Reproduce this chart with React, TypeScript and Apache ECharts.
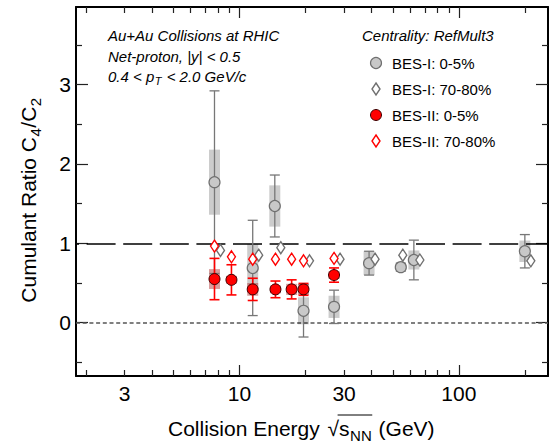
import React, { useEffect, useRef } from 'react';
import * as echarts from 'echarts';

// ---------------- data ----------------
const bes1Energy = [7.7, 11.5, 14.5, 19.6, 27, 39, 54.4, 62.4, 200];
const bes1Central = [1.77, 0.69, 1.47, 0.15, 0.2, 0.75, 0.7, 0.79, 0.9];
const bes1CentralStat = [1.15, 0.6, 0.39, 0.33, 0.21, 0.15, 0.05, 0.25, 0.21];
const bes1CentralSys = [0.41, 0.3, 0.26, 0.17, 0.14, 0.15, 0.03, 0.12, 0.135];
const bes1Peripheral = [0.91, 0.85, 0.945, 0.78, 0.8, 0.8, 0.85, 0.79, 0.78];

const bes2Energy = [7.7, 9.2, 11.5, 14.6, 17.3, 19.6, 27];
const bes2Central = [0.55, 0.54, 0.42, 0.42, 0.42, 0.42, 0.6];
const bes2CentralStat = [0.26, 0.19, 0.14, 0.105, 0.12, 0.075, 0.09];
const bes2CentralSys = [0.125, 0.05, 0.08, 0.05, 0.07, 0.07, 0.05];
const bes2Peripheral = [0.965, 0.83, 0.8, 0.8, 0.8, 0.78, 0.81];

const xMinorTicks = [2, 3, 4, 5, 6, 7, 8, 9, 20, 30, 40, 50, 60, 70, 80, 90, 200];
const xMajorTicks = [10, 100];
const xTickLabels = [3, 10, 30, 100];
const yMajorTicks = [0, 1, 2, 3];
const yMinorTicks = [-0.5, 0.5, 1.5, 2.5, 3.5];
const xRange = [1.8, 255];
const yRange = [-0.671, 3.976];

const legendTitle = 'Centrality: RefMult3';
const legendNames = ['BES-I: 0-5%', 'BES-I: 70-80%', 'BES-II: 0-5%', 'BES-II: 70-80%'];

// ---------------- helpers ----------------
const lg = Math.log10;
const FONT = '"Liberation Sans", Arial, Helvetica, sans-serif';
const GRAY = '#707070';
const GRAY_FILL = '#c8c8c8';
const RED = '#ff0000';

let measureCtx: CanvasRenderingContext2D | null = null;
function measure(text: string, size: number, italic = false): number {
  if (!measureCtx) measureCtx = document.createElement('canvas').getContext('2d');
  if (!measureCtx) return text.length * size * 0.55;
  measureCtx.font = `${italic ? 'italic ' : ''}${size}px ${FONT}`;
  return measureCtx.measureText(text).width;
}

function txt(text: string, x: number, y: number, size: number, italic = false, extra: any = {}) {
  return {
    type: 'text',
    x,
    y,
    silent: true,
    style: {
      text,
      fontSize: size,
      fontFamily: FONT,
      fontStyle: italic ? 'italic' : 'normal',
      fill: '#000',
      align: 'left',
      verticalAlign: 'middle',
      textAlign: 'left',
      textVerticalAlign: 'middle',
      ...extra,
    },
  };
}

function sysRender(color: string) {
  return (params: any, api: any) => {
    const x = api.value(0);
    const y = api.value(1);
    const s = api.value(2);
    const p1 = api.coord([x, y + s]);
    const p2 = api.coord([x, y - s]);
    return {
      type: 'rect',
      shape: { x: p1[0] - 5.5, y: p1[1], width: 11, height: p2[1] - p1[1] },
      style: { fill: color },
    };
  };
}

function errRender(color: string, width: number) {
  return (params: any, api: any) => {
    const x = api.value(0);
    const y = api.value(1);
    const e = api.value(2);
    const p1 = api.coord([x, y + e]);
    const p2 = api.coord([x, y - e]);
    const hw = 5;
    const st = { stroke: color, lineWidth: width };
    return {
      type: 'group',
      children: [
        { type: 'line', shape: { x1: p1[0], y1: p1[1], x2: p2[0], y2: p2[1] }, style: st },
        { type: 'line', shape: { x1: p1[0] - hw, y1: p1[1], x2: p1[0] + hw, y2: p1[1] }, style: st },
        { type: 'line', shape: { x1: p2[0] - hw, y1: p2[1], x2: p2[0] + hw, y2: p2[1] }, style: st },
      ],
    };
  };
}

function buildOption() {
  const tickStyle = { color: '#222', width: 1.2 };
  const xBase: any = {
    type: 'value',
    min: lg(xRange[0]),
    max: lg(xRange[1]),
    splitLine: { show: false },
    axisLabel: { show: false },
    axisTick: { show: false },
    axisLine: { show: false, onZero: false },
  };
  const yBase: any = {
    type: 'value',
    min: yRange[0],
    max: yRange[1],
    splitLine: { show: false },
    axisLabel: { show: false },
    axisTick: { show: false },
    axisLine: { show: false, onZero: false },
  };
  const axisLine = { show: true, onZero: false, lineStyle: { color: '#000', width: 2 } };

  const xAxis = [
    {
      ...xBase,
      position: 'bottom',
      axisLine,
      axisTick: { show: true, inside: true, length: 6, customValues: xMinorTicks.map(lg), lineStyle: tickStyle },
      axisLabel: {
        show: true,
        customValues: xTickLabels.map(lg),
        formatter: (v: number) => String(Math.round(Math.pow(10, v))),
        fontSize: 21,
        fontFamily: FONT,
        color: '#000',
        margin: 7,
      },
    },
    { ...xBase, position: 'bottom', axisTick: { show: true, inside: true, length: 11, customValues: xMajorTicks.map(lg), lineStyle: tickStyle } },
    { ...xBase, position: 'top', axisLine, axisTick: { show: true, inside: true, length: 6, customValues: xMinorTicks.map(lg), lineStyle: tickStyle } },
    { ...xBase, position: 'top', axisTick: { show: true, inside: true, length: 11, customValues: xMajorTicks.map(lg), lineStyle: tickStyle } },
  ];
  const yAxis = [
    {
      ...yBase,
      position: 'left',
      axisLine,
      axisTick: { show: true, inside: true, length: 12, customValues: yMajorTicks, lineStyle: tickStyle },
      axisLabel: {
        show: true,
        customValues: yMajorTicks,
        formatter: (v: number) => String(v),
        fontSize: 21,
        fontFamily: FONT,
        color: '#000',
        margin: 5,
      },
    },
    { ...yBase, position: 'left', axisTick: { show: true, inside: true, length: 6, customValues: yMinorTicks, lineStyle: tickStyle } },
    { ...yBase, position: 'right', axisLine, axisTick: { show: true, inside: true, length: 12, customValues: yMajorTicks, lineStyle: tickStyle } },
    { ...yBase, position: 'right', axisTick: { show: true, inside: true, length: 6, customValues: yMinorTicks, lineStyle: tickStyle } },
  ];

  const sys1Data = bes1Energy.map((e, i) => [lg(e), bes1Central[i], bes1CentralSys[i]]);
  const err1Data = bes1Energy.map((e, i) => [lg(e), bes1Central[i], bes1CentralStat[i]]);
  const sys2Data = bes2Energy.map((e, i) => [lg(e), bes2Central[i], bes2CentralSys[i]]);
  const err2Data = bes2Energy.map((e, i) => [lg(e), bes2Central[i], bes2CentralStat[i]]);

  const series: any[] = [
    {
      type: 'custom',
      name: 'sys BES-I',
      renderItem: sysRender('rgba(0,0,0,0.2)'),
      data: sys1Data,
      encode: { x: 0, y: 1 },
      silent: true,
      markLine: {
        silent: true,
        z: 1,
        symbol: ['none', 'none'],
        label: { show: false },
        data: [
          { yAxis: 1, lineStyle: { color: '#000', width: 1.6, type: [29, 7.6], dashOffset: 26 } },
          { yAxis: 0, lineStyle: { color: '#555', width: 1.5, type: [4, 2.7] } },
        ],
      },
    },
    {
      type: 'custom',
      name: 'sys BES-II',
      renderItem: sysRender('rgba(180,60,60,0.5)'),
      data: sys2Data,
      encode: { x: 0, y: 1 },
      silent: true,
    },
    {
      type: 'custom',
      name: 'stat BES-I',
      renderItem: errRender('#777', 1.3),
      data: err1Data,
      encode: { x: 0, y: 1 },
      silent: true,
    },
    {
      type: 'scatter',
      name: legendNames[0],
      symbol: 'circle',
      symbolSize: 11,
      itemStyle: { color: GRAY_FILL, borderColor: GRAY, borderWidth: 1.2, opacity: 1 },
      data: bes1Energy.map((e, i) => [lg(e), bes1Central[i]]),
    },
    {
      type: 'scatter',
      name: legendNames[1],
      symbol: 'diamond',
      symbolSize: [8, 12],
      itemStyle: { color: '#fff', borderColor: GRAY, borderWidth: 1.4, opacity: 1 },
      data: bes1Energy.map((e, i) => ({ value: [lg(e), bes1Peripheral[i]], symbolOffset: [e === 54.4 ? 2 : 6, 0] })),
    },
    {
      type: 'custom',
      name: 'stat BES-II',
      renderItem: errRender(RED, 1.6),
      data: err2Data,
      encode: { x: 0, y: 1 },
      silent: true,
    },
    {
      type: 'scatter',
      name: legendNames[2],
      symbol: 'circle',
      symbolSize: 11,
      itemStyle: { color: RED, borderColor: '#3a0000', borderWidth: 1, opacity: 1 },
      data: bes2Energy.map((e, i) => [lg(e), bes2Central[i]]),
    },
    {
      type: 'scatter',
      name: legendNames[3],
      symbol: 'diamond',
      symbolSize: [8, 12],
      itemStyle: { color: '#fff', borderColor: RED, borderWidth: 1.4, opacity: 1 },
      data: bes2Energy.map((e, i) => [lg(e), bes2Peripheral[i]]),
    },
  ];

  // ----- text annotations -----
  const graphic: any[] = [];
  const ax = 108;
  graphic.push(txt('Au+Au Collisions at RHIC', ax, 35, 15, true));
  graphic.push(txt('Net-proton, |y| < 0.5', ax, 56, 15, true));
  const l3a = '0.4 < p';
  const w3a = measure(l3a, 15, true);
  graphic.push(txt(l3a, ax, 76, 15, true));
  graphic.push(txt('T', ax + w3a + 0.5, 81, 11, true));
  graphic.push(txt(' < 2.0 GeV/c', ax + w3a + measure('T', 11, true) + 1.5, 76, 15, true));

  // ----- legend -----
  graphic.push(txt(legendTitle, 362, 35, 15, true));
  const lx = 376;
  const rows = [63, 89, 115, 141];
  graphic.push({ type: 'circle', silent: true, shape: { cx: lx, cy: rows[0], r: 5.5 }, style: { fill: GRAY_FILL, stroke: GRAY, lineWidth: 1.2 } });
  graphic.push({
    type: 'polygon', silent: true,
    shape: { points: [[lx, rows[1] - 6], [lx + 4, rows[1]], [lx, rows[1] + 6], [lx - 4, rows[1]]] },
    style: { fill: '#fff', stroke: GRAY, lineWidth: 1.4 },
  });
  graphic.push({ type: 'circle', silent: true, shape: { cx: lx, cy: rows[2], r: 5.5 }, style: { fill: RED, stroke: '#3a0000', lineWidth: 1 } });
  graphic.push({
    type: 'polygon', silent: true,
    shape: { points: [[lx, rows[3] - 6], [lx + 4, rows[3]], [lx, rows[3] + 6], [lx - 4, rows[3]]] },
    style: { fill: '#fff', stroke: RED, lineWidth: 1.4 },
  });
  legendNames.forEach((n, i) => graphic.push(txt(n, 392, rows[i], 15)));

  // ----- x axis title -----
  const TS = 21;
  const SS = 15;
  const xt0 = 168;
  const xty = 428;
  const p1 = 'Collision Energy ';
  const w1 = measure(p1, TS);
  const wr = measure('\u221A', TS);
  const ws = measure('s', TS);
  const wnn = measure('NN', SS);
  graphic.push(txt(p1, xt0, xty, TS));
  graphic.push(txt('\u221A', xt0 + w1 + 2, xty, TS));
  graphic.push(txt('s', xt0 + w1 + wr + 2, xty, TS));
  graphic.push(txt('NN', xt0 + w1 + wr + ws + 2.5, xty + 7, SS));
  graphic.push(txt(' (GeV)', xt0 + w1 + wr + ws + wnn + 3.5, xty, TS));
  graphic.push({
    type: 'line', silent: true,
    shape: { x1: xt0 + w1 + wr + 0.5, y1: xty - 13, x2: xt0 + w1 + wr + ws + wnn + 3, y2: xty - 13 },
    style: { stroke: '#000', lineWidth: 1 },
  });

  // ----- y axis title (rotated) -----
  const ya = 'Cumulant Ratio C';
  const wa = measure(ya, TS);
  const w4 = measure('4', SS);
  const wc = measure('/C', TS);
  const w2 = measure('2', SS);
  const total = wa + w4 + wc + w2;
  graphic.push({
    type: 'group',
    x: 28,
    y: 201 + total / 2,
    rotation: Math.PI / 2,
    children: [
      txt(ya, 0, 0, TS),
      txt('4', wa + 0.5, 7, SS),
      txt('/C', wa + w4 + 1, 0, TS),
      txt('2', wa + w4 + wc + 1.5, 7, SS),
    ],
  });

  return {
    animation: false,
    backgroundColor: '#fff',
    grid: { left: 76, right: 2, top: 7, bottom: 69, containLabel: false },
    xAxis,
    yAxis,
    series,
    graphic,
  };
}

export default function App() {
  const ref = useRef<HTMLDivElement>(null);
  useEffect(() => {
    if (!ref.current) return;
    const chart = echarts.init(ref.current, undefined, { renderer: 'svg' });
    chart.setOption(buildOption() as any);
    return () => chart.dispose();
  }, []);
  return (
    <div
      ref={ref}
      style={{ position: 'absolute', left: 0, top: 0, width: 550, height: 445, background: '#fff' }}
    />
  );
}
